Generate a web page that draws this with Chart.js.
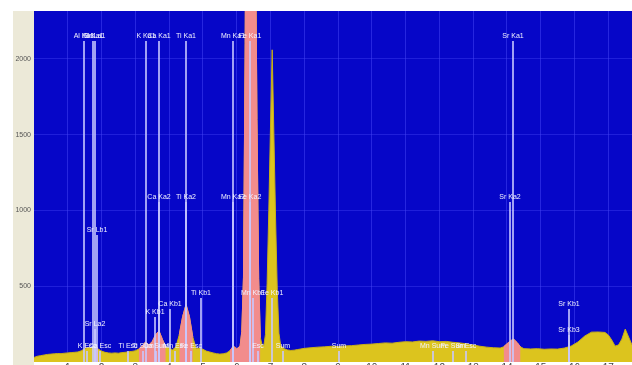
<!DOCTYPE html>
<html>
<head>
<meta charset="utf-8">
<script src="https://cdn.jsdelivr.net/npm/chart.js@4.4.1/dist/chart.umd.min.js"></script>
<style>
  html, body { margin: 0; padding: 0; background: #fff; overflow: hidden; }
  #wrap { position: absolute; left: 0; top: 0; width: 632px; height: 380px; }
</style>
</head>
<body>
<div id="wrap"><canvas id="spectrum"></canvas></div>
<script>
// spectrum (keV / counts)
const energy = [
  0.0, 0.1, 0.2, 0.3, 0.4, 0.5, 0.6, 0.7, 0.8, 0.9,
  1.0, 1.1, 1.2, 1.3, 1.4, 1.5, 1.6, 1.7, 1.8, 1.9,
  2.0, 2.1, 2.2, 2.3, 2.4, 2.5, 2.6, 2.7, 2.8, 2.9,
  3.0, 3.1, 3.2, 3.3, 3.4, 3.5, 3.6, 3.7, 3.8, 3.9,
  4.0, 4.1, 4.2, 4.3, 4.4, 4.5, 4.6, 4.7, 4.8, 4.9,
  5.0, 5.1, 5.2, 5.3, 5.4, 5.5, 5.6, 5.7, 5.8, 5.9,
  6.0, 6.1, 6.15, 6.2, 6.25, 6.3, 6.35, 6.4, 6.45, 6.5,
  6.55, 6.6, 6.65, 6.7, 6.75, 6.8, 6.85, 6.9, 6.95, 7.0,
  7.05, 7.1, 7.15, 7.2, 7.25, 7.3, 7.4, 7.5, 7.6, 7.7,
  7.8, 7.9, 8.0, 8.2, 8.4, 8.6, 8.8, 9.0, 9.2, 9.4,
  9.6, 9.8, 10.0, 10.2, 10.4, 10.6, 10.8, 11.0, 11.2, 11.4,
  11.6, 11.8, 12.0, 12.2, 12.4, 12.6, 12.8, 13.0, 13.2, 13.4,
  13.6, 13.8, 13.9, 14.0, 14.1, 14.2, 14.3, 14.4, 14.5, 14.7,
  14.9, 15.1, 15.3, 15.5, 15.7, 15.9, 16.1, 16.3, 16.5, 16.7,
  16.9, 17.0, 17.1, 17.2, 17.3, 17.4, 17.5, 17.6, 17.7
];
const counts = [
  30, 38, 42, 46, 50, 52, 54, 56, 55, 58,
  60, 62, 64, 66, 74, 88, 96, 92, 108, 86,
  72, 64, 60, 58, 60, 58, 62, 64, 68, 70,
  74, 86, 105, 132, 112, 135, 180, 205, 150, 100,
  92, 80, 100, 180, 300, 380, 300, 165, 88, 92,
  84, 72, 66, 60, 55, 52, 54, 60, 74, 105,
  86, 105, 200, 560, 2100, 4500, 6500, 7000, 6500, 4800,
  3000, 1600, 550, 160, 115, 105, 180, 520, 1000, 1550,
  2060, 1500, 950, 480, 190, 110, 88, 80, 76, 78,
  82, 86, 90, 94, 98, 100, 104, 102, 106, 108,
  112, 116, 118, 122, 126, 124, 130, 134, 132, 138,
  136, 140, 134, 136, 130, 126, 120, 112, 104, 98,
  94, 92, 100, 120, 140, 150, 128, 100, 88, 86,
  88, 84, 86, 85, 92, 105, 132, 171, 197, 198,
  195, 178, 145, 105, 112, 151, 217, 165, 112
];
// identified peaks, shown in pink
const peakStart = [1.75, 3.1, 4.25, 5.8, 6.1, 13.9];
const peakEnd   = [1.9, 3.9, 4.75, 6.0, 6.7, 14.4];

const yTicks = [500, 1000, 1500, 2000];
const xTicks = [1, 2, 3, 4, 5, 6, 7, 8, 9, 10, 11, 12, 13, 14, 15, 16, 17];

// element line markers
const markerEnergy = [
  1.487, 1.740, 1.806, 3.313, 3.691, 4.510, 5.898, 6.403, 14.165,
  3.688, 4.504, 5.887, 6.390, 14.098,
  1.872, 1.805,
  3.590, 4.013, 4.932, 6.490, 7.058, 15.836, 15.826,
  1.57, 1.95, 2.77, 3.22, 3.62, 4.16, 4.66, 6.62, 7.38, 9.02, 11.8, 12.4, 12.8
];
const markerHeight = [
  2120, 2120, 2120, 2120, 2120, 2120, 2120, 2120, 2120,
  1055, 1055, 1055, 1055, 1055,
  835, 215,
  300, 350, 420, 425, 425, 350, 180,
  75, 75, 75, 75, 75, 75, 75, 75, 75, 75, 75, 75, 75
];
const markerLabel = [
  'Al Ka1', 'Si Ka1', 'Sr La1', 'K Ka1', 'Ca Ka1', 'Ti Ka1', 'Mn Ka1', 'Fe Ka1', 'Sr Ka1',
  'Ca Ka2', 'Ti Ka2', 'Mn Ka2', 'Fe Ka2', 'Sr Ka2',
  'Sr Lb1', 'Sr La2',
  'K Kb1', 'Ca Kb1', 'Ti Kb1', 'Mn Kb1', 'Fe Kb1', 'Sr Kb1', 'Sr Kb3',
  'K Esc', 'Ca Esc', 'Ti Esc', 'Ti Sum', 'Ca Sum', 'Mn Esc', 'Fe Esc', 'Esc', 'Sum', 'Sum', 'Mn Sum', 'Fe Sum', 'Sr Esc'
];

const yMax = 2316;
const xMax = 17.7;

function inPeak(e) {
    for (let k = 0; k < peakStart.length; k++) {
        if (e >= peakStart[k] - 1e-9 && e <= peakEnd[k] + 1e-9) return true;
    }
    return false;
}

const spectrumPoints = energy.map((e, i) => ({ x: e, y: counts[i] }));
const peakPoints = energy.map((e, i) => ({ x: e, y: inPeak(e) ? counts[i] : null }));

const backdrop = {
    id: 'backdrop',
    beforeDraw(chart) {
        const { ctx, chartArea, width, height } = chart;
        ctx.save();
        ctx.fillStyle = '#ffffff';
        ctx.fillRect(0, 0, width, height);
        ctx.fillStyle = '#ece9d8';
        ctx.fillRect(13, chartArea.top, chartArea.left - 13, height - chartArea.top);
        ctx.fillStyle = '#0606c8';
        ctx.fillRect(chartArea.left, chartArea.top, chartArea.width, chartArea.height);
        ctx.restore();
    }
};

const markers = {
    id: 'markers',
    afterDatasetsDraw(chart) {
        const { ctx, chartArea } = chart;
        const x = chart.scales.x, y = chart.scales.y;
        const base = y.getPixelForValue(0);
        ctx.save();
        ctx.beginPath();
        ctx.rect(chartArea.left, chartArea.top, chartArea.width, chartArea.height);
        ctx.clip();
        ctx.lineWidth = 2;
        ctx.strokeStyle = 'rgba(200,200,255,0.8)';
        ctx.fillStyle = '#f2f2ff';
        ctx.font = '7px "Liberation Sans", Arial, sans-serif';
        ctx.textAlign = 'center';
        ctx.textBaseline = 'bottom';
        markerEnergy.forEach((e, i) => {
            const px = Math.round(x.getPixelForValue(e));
            const top = Math.round(y.getPixelForValue(markerHeight[i]));
            ctx.beginPath();
            ctx.moveTo(px, top);
            ctx.lineTo(px, base);
            ctx.stroke();
        });
        markerEnergy.forEach((e, i) => {
            const px = Math.round(x.getPixelForValue(e));
            const top = Math.round(y.getPixelForValue(markerHeight[i]));
            ctx.fillText(markerLabel[i], px, top - 1);
        });
        ctx.restore();
    }
};

const ctx = document.getElementById('spectrum').getContext('2d');

const spectrumChart = new Chart(ctx, {
    type: 'line',
    data: {
        datasets: [{
            label: 'Peaks',
            data: peakPoints,
            backgroundColor: '#f28c8c',
            borderColor: '#f28c8c',
            borderWidth: 1,
            fill: 'origin',
            spanGaps: false,
            pointRadius: 0,
            order: 0
        }, {
            label: 'Spectrum',
            data: spectrumPoints,
            backgroundColor: '#dcc41e',
            borderColor: '#c8b018',
            borderWidth: 1,
            fill: 'origin',
            pointRadius: 0,
            order: 1
        }]
    },
    options: {
        responsive: true,
        maintainAspectRatio: false,
        animation: false,
        layout: { padding: { left: 13, top: 11, right: 0, bottom: 0 } },
        plugins: {
            legend: { display: false },
            tooltip: { enabled: false }
        },
        scales: {
            x: {
                type: 'linear',
                min: 0,
                max: xMax,
                afterFit: function (scale) { scale.height = 18; },
                afterBuildTicks: function (scale) {
                    scale.ticks = xTicks.map(v => ({ value: v }));
                },
                grid: {
                    color: 'rgba(70,70,245,0.5)',
                    drawTicks: false
                },
                border: { display: false },
                ticks: {
                    maxRotation: 0,
                    autoSkip: false,
                    padding: 0,
                    color: '#444',
                    font: { family: 'Liberation Sans', size: 10 },
                    callback: function (value) { return String(value); }
                }
            },
            y: {
                min: 0,
                max: yMax,
                afterFit: function (scale) { scale.width = 21; },
                afterBuildTicks: function (scale) {
                    scale.ticks = yTicks.map(v => ({ value: v }));
                },
                grid: {
                    color: 'rgba(70,70,245,0.4)',
                    drawTicks: false
                },
                border: { display: false },
                ticks: {
                    padding: 3,
                    color: '#555',
                    font: { family: 'Liberation Sans', size: 7 },
                    callback: function (value) { return String(value); }
                }
            }
        }
    },
    plugins: [backdrop, markers]
});
</script>
</body>
</html>
